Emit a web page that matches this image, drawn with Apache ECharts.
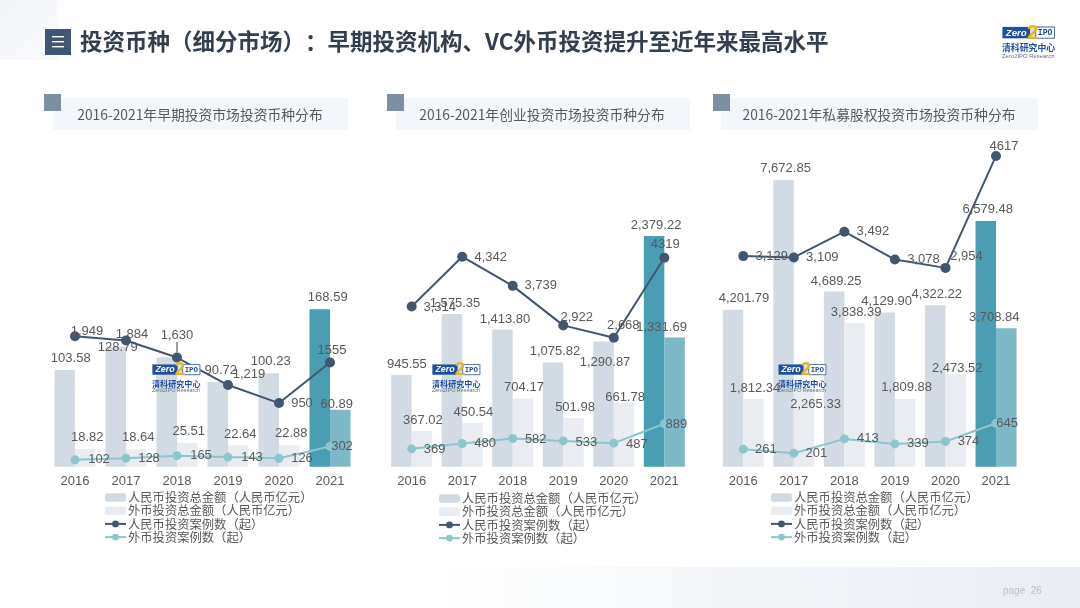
<!DOCTYPE html>
<html>
<head>
<meta charset="utf-8">
<style>
  html, body { margin: 0; padding: 0; background: #fff; }
  #chart { width: 1080px; height: 608px; }
</style>
<script src="https://cdn.jsdelivr.net/npm/echarts@6/dist/echarts.min.js"></script>
</head>
<body>
<div id="chart"></div>
<script>
const years = ['2016', '2017', '2018', '2019', '2020', '2021'];
const seriesNames = ['人民币投资总金额（人民币亿元）', '外币投资总金额（人民币亿元）', '人民币投资案例数（起）', '外币投资案例数（起）'];

// 早期投资 (2018 rmb amount is hidden behind the logo)
const earlyRmbAmount = [103.58, 128.79, 117.35, 90.72, 100.23, 168.59];
const earlyFxAmount = [18.82, 18.64, 25.51, 22.64, 22.88, 60.89];
const earlyRmbDeals = [1949, 1884, 1630, 1219, 950, 1555];
const earlyFxDeals = [102, 128, 165, 143, 126, 302];

// 创业投资
const vcRmbAmount = [945.55, 1575.35, 1413.80, 1075.82, 1290.87, 2379.22];
const vcFxAmount = [367.02, 450.54, 704.17, 501.98, 661.78, 1331.69];
const vcRmbDeals = [3314, 4342, 3739, 2922, 2668, 4319];
const vcFxDeals = [369, 480, 582, 533, 487, 889];

// 私募股权
const peRmbAmount = [4201.79, 7672.85, 4689.25, 4129.90, 4322.22, 6579.48];
const peFxAmount = [1812.34, 2265.33, 3838.39, 1809.88, 2473.52, 3708.84];
const peRmbDeals = [3129, 3109, 3492, 3078, 2954, 4617];
const peFxDeals = [261, 201, 413, 339, 374, 645];

// layout of each panel, label nudges are by hand to follow the original slide
const panels = [
    {
        title: '2016-2021年早期投资市场投资币种分布',
        left: 49.5, width: 306, barMax: 350, dealMax: 4878,
        data: [earlyRmbAmount, earlyFxAmount, earlyRmbDeals, earlyFxDeals],
        legendLeft: 104, legendTop: 491,
        square: 44, boxLeft: 53, boxWidth: 295, titleX: 200, logoX: 152,
        nudge: [
            [[6, 0], [2, 12], [5, 24], [3, 0], [2, 0], [8, 0]],
            [[2, 0], [2, 0], [1.5, 0], [2, 0], [2, 0], [-3.5, 6]],
            [[12, -5], [6, -6], [0, -22], [21, -11], [23, 0], [2, -12]],
            [[24, 0], [23, 0], [24, 0], [24, 0], [23, 0], [12, 0]]
        ],
        guideIndex: 2
    },
    {
        title: '2016-2021年创业投资市场投资币种分布',
        left: 386.4, width: 303.2, barMax: 3369, dealMax: 6755,
        data: [vcRmbAmount, vcFxAmount, vcRmbDeals, vcFxDeals],
        legendLeft: 438, legendTop: 492,
        square: 387, boxLeft: 396, boxWidth: 294, titleX: 542, logoX: 432,
        nudge: [
            [[5.5, 1], [3, 1], [2.5, 1], [2, 1], [1.5, 32], [2, 1]],
            [[1, 1], [1, 1], [1, 1], [1.5, 1], [1, 6], [-13, 1]],
            [[28, 1], [28.5, 1], [28, 0], [13.5, -8], [9.5, -12], [1, -13.5]],
            [[23, 1], [23, 0], [23, 1], [23, 1], [23, 1], [12, 1]]
        ],
        guideIndex: -1
    },
    {
        title: '2016-2021年私募股权投资市场投资币种分布',
        left: 718, width: 303.3, barMax: 8745, dealMax: 4854,
        data: [peRmbAmount, peFxAmount, peRmbDeals, peFxDeals],
        legendLeft: 770, legendTop: 491,
        square: 713, boxLeft: 721, boxWidth: 317, titleX: 879, logoX: 778,
        nudge: [
            [[11, 0.5], [2, 0], [2, 1], [2, 1], [1.5, 1], [2, 0]],
            [[1.5, 0.5], [11.5, 34], [1.5, 1], [1.5, 0], [1.5, 5.5], [-12, 1]],
            [[28.5, 0], [28.5, 0], [28.5, 0], [28.5, 0], [21, -11.5], [8, -9.5]],
            [[22.5, 0], [22.5, 0], [23.5, 0], [23, 0], [23, 0], [11, 0]]
        ],
        guideIndex: -1
    }
];

const labelColor = '#595959';
const labelFont = '"Liberation Sans", Arial, sans-serif';
const cjkFont = '"Noto Sans CJK SC", sans-serif';
const gridTop = 140;
const gridBottom = 141.3;

function amountText(params) {
    return params.value.toLocaleString('en-US', { minimumFractionDigits: 2, maximumFractionDigits: 2 });
}

function dealText(params) {
    // the 2021 figures carry no thousands separator in the original
    return params.dataIndex === 5 ? String(params.value) : params.value.toLocaleString('en-US');
}

function barSeries(panel, panelIndex, seriesIndex, color, lastColor) {
    return {
        name: seriesNames[seriesIndex],
        type: 'bar',
        xAxisIndex: panelIndex,
        yAxisIndex: panelIndex * 2,
        barWidth: 20.5,
        barGap: 0,
        itemStyle: { color: color },
        label: {
            show: true, position: 'top', formatter: amountText,
            color: labelColor, fontFamily: labelFont, fontSize: 13
        },
        data: panel.data[seriesIndex].map(function (v, i) {
            const item = { value: v, label: { offset: panel.nudge[seriesIndex][i] } };
            if (i === 5) item.itemStyle = { color: lastColor };
            return item;
        })
    };
}

function lineSeries(panel, panelIndex, seriesIndex, color, size) {
    return {
        name: seriesNames[seriesIndex],
        type: 'line',
        xAxisIndex: panelIndex,
        yAxisIndex: panelIndex * 2 + 1,
        symbol: 'circle',
        symbolSize: size,
        lineStyle: { color: color, width: 2 },
        itemStyle: { color: color },
        label: {
            show: true, position: 'inside', formatter: dealText,
            color: labelColor, fontFamily: labelFont, fontSize: 13
        },
        data: panel.data[seriesIndex].map(function (v, i) {
            const item = { value: v, label: { offset: panel.nudge[seriesIndex][i] } };
            if (seriesIndex === 2 && i === panel.guideIndex) {
                item.labelLine = { show: true, lineStyle: { color: '#333f50', width: 1 } };
            }
            return item;
        })
    };
}

function makeLogo(x, y, s) {
    // zlevel does not pass down from a group, so every child carries it
    const parts = [
        { type: 'rect', shape: { x: 0, y: 0, width: 52, height: 12 }, style: { fill: '#d5e0ee' } },
        { type: 'rect', shape: { x: 0.5, y: 0.5, width: 27, height: 11 }, style: { fill: '#1f4e9c' } },
        { type: 'rect', shape: { x: 33, y: 0.5, width: 18.5, height: 11 }, style: { fill: '#fff', stroke: '#1f4e9c', lineWidth: 0.8 } },
        { type: 'text', style: { x: 14, y: 6.3, text: 'Zero', fill: '#fff', font: 'italic bold 9.5px "Liberation Sans"', align: 'center', verticalAlign: 'middle' } },
        { type: 'text', style: { x: 30, y: 6.5, text: '2', fill: '#e6b422', font: 'bold 20px "Liberation Sans"', align: 'center', verticalAlign: 'middle' } },
        { type: 'text', style: { x: 42.3, y: 6.3, text: 'IPO', fill: '#1f4e9c', font: 'bold 8px "Liberation Mono"', align: 'center', verticalAlign: 'middle' } },
        { type: 'text', style: { x: 0, y: 21, text: '清科研究中心', fill: '#1f4e9c', font: 'bold 8.7px ' + cjkFont, verticalAlign: 'middle' } },
        { type: 'text', style: { x: 0, y: 29, text: 'Zero2IPO Research', fill: '#5c7089', font: '5.8px "Liberation Sans"', verticalAlign: 'middle' } }
    ];
    parts.forEach(function (el) { el.zlevel = 1; });
    return { type: 'group', x: x, y: y, scaleX: s, scaleY: s, children: parts };
}

function pageGraphics() {
    const items = [
        { type: 'rect', shape: { x: 0, y: 0, width: 58, height: 60 }, style: { fill: new echarts.graphic.LinearGradient(0, 0, 1, 1, [{ offset: 0, color: '#f3f6f9' }, { offset: 1, color: '#f8f9fb' }]) }, z: -1 },
        { type: 'rect', shape: { x: 440, y: 567, width: 640, height: 41 }, style: { fill: new echarts.graphic.LinearGradient(0, 0, 1, 0, [{ offset: 0, color: '#ffffff' }, { offset: 0.5, color: '#f2f5f8' }, { offset: 1, color: '#e9edf3' }]) }, z: -1 },
        { type: 'rect', shape: { x: 45, y: 29, width: 26, height: 26 }, style: { fill: '#3f5674' } },
        { type: 'rect', shape: { x: 52, y: 36, width: 12, height: 1.4 }, style: { fill: '#fff' } },
        { type: 'rect', shape: { x: 52, y: 41, width: 12, height: 1.4 }, style: { fill: '#fff' } },
        { type: 'rect', shape: { x: 52, y: 46, width: 12, height: 1.4 }, style: { fill: '#fff' } },
        // zero width space keeps the browser from squeezing the two full width marks
        { type: 'text', style: { x: 80, y: 41, text: '投资币种（细分市场）\u200b：早期投资机构、VC外币投资提升至近年来最高水平', fill: '#333f50', font: 'bold 22.5px ' + cjkFont, verticalAlign: 'middle' } },
        { type: 'text', style: { x: 1003, y: 591, text: 'page  26', fill: '#bcc0c6', font: '10px "Liberation Sans"', verticalAlign: 'middle' } },
        makeLogo(1002, 26.5, 1.02)
    ];
    panels.forEach(function (p) {
        items.push({ type: 'rect', shape: { x: p.boxLeft, y: 98, width: p.boxWidth, height: 32 }, style: { fill: '#f3f6fa' }, z: -1 });
        items.push({ type: 'rect', shape: { x: p.square, y: 94, width: 17, height: 17 }, style: { fill: '#7e8fa3' } });
        items.push({ type: 'text', style: { x: p.titleX, y: 114.5, text: p.title, fill: labelColor, font: '13.8px "Noto Sans CJK SC", sans-serif', align: 'center', verticalAlign: 'middle' } });
        items.push(makeLogo(p.logoX, 364, 0.93));
    });
    return items;
}

const grids = [];
const xAxes = [];
const yAxes = [];
const legends = [];
const allSeries = [];

panels.forEach(function (p, i) {
    grids.push({ left: p.left, width: p.width, top: gridTop, bottom: gridBottom });
    xAxes.push({
        type: 'category', gridIndex: i, data: years,
        axisLine: { show: false }, axisTick: { show: false },
        axisLabel: { color: labelColor, fontFamily: labelFont, fontSize: 13, margin: 8 }
    });
    yAxes.push({ type: 'value', gridIndex: i, min: 0, max: p.barMax, show: false });
    yAxes.push({ type: 'value', gridIndex: i, min: 0, max: p.dealMax, show: false });
    legends.push({
        left: p.legendLeft, top: p.legendTop, orient: 'vertical', padding: 0, itemGap: 0.2,
        itemWidth: 21, itemHeight: 8.5, selectedMode: false, data: seriesNames,
        textStyle: { color: labelColor, fontFamily: cjkFont, fontSize: 12.3, lineHeight: 13, padding: [0, 0, 0, -3] }
    });
    allSeries.push(
        barSeries(p, i, 0, '#d2dbe3', '#4a9eb3'),
        barSeries(p, i, 1, '#e9edf1', '#7cb8c8'),
        lineSeries(p, i, 2, '#43566f', 10),
        lineSeries(p, i, 3, '#8cc5cc', 9)
    );
});

const chart = echarts.init(document.getElementById('chart'));
chart.setOption({
    backgroundColor: '#fff',
    animation: false,
    grid: grids,
    xAxis: xAxes,
    yAxis: yAxes,
    legend: legends,
    graphic: { elements: pageGraphics() },
    series: allSeries
});
</script>
</body>
</html>
